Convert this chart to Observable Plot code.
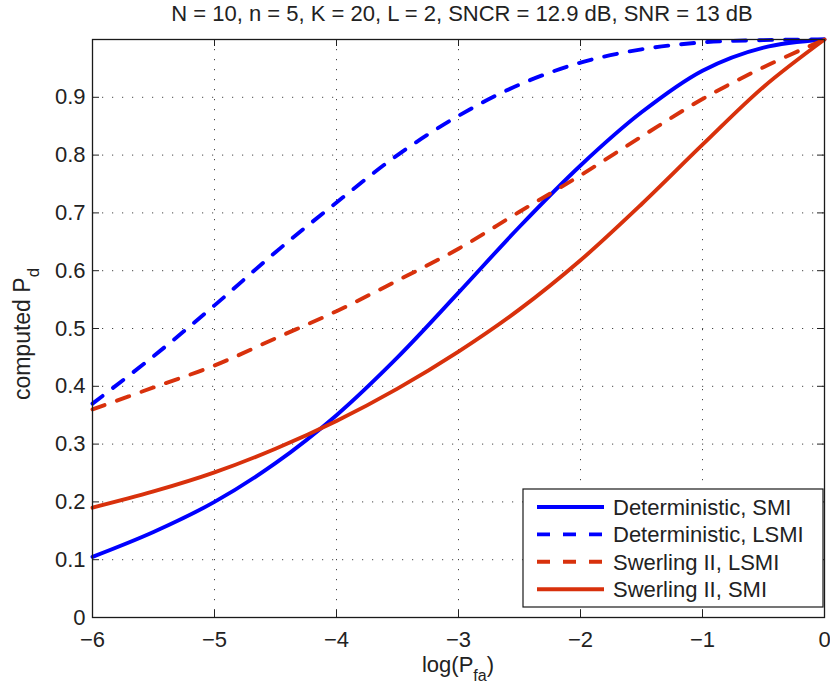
<!DOCTYPE html>
<html>
<head>
<meta charset="utf-8">
<script src="https://cdn.jsdelivr.net/npm/d3@7"></script>
<script src="https://cdn.jsdelivr.net/npm/@observablehq/plot@0.6"></script>
<style>
  body { margin: 0; background: #fff; }
  #chart svg { display: block; }
</style>
</head>
<body>
<div id="chart"></div>
<script>
// ---- data ----
const logPfa   = [-6, -5.5, -5, -4.5, -4, -3.5, -3, -2.5, -2, -1.5, -1, -0.5, 0];
const detSMI   = [0.105, 0.148, 0.200, 0.267, 0.350, 0.450, 0.562, 0.676, 0.782, 0.874, 0.946, 0.986, 1.0];
const detLSMI  = [0.370, 0.452, 0.540, 0.632, 0.718, 0.800, 0.868, 0.922, 0.960, 0.983, 0.995, 0.999, 1.0];
const swLSMI   = [0.360, 0.398, 0.436, 0.483, 0.530, 0.583, 0.638, 0.702, 0.765, 0.832, 0.897, 0.952, 1.0];
const swSMI    = [0.190, 0.218, 0.251, 0.292, 0.340, 0.396, 0.460, 0.533, 0.618, 0.715, 0.818, 0.918, 1.0];

const seriesNames = ["Deterministic, SMI", "Deterministic, LSMI", "Swerling II, LSMI", "Swerling II, SMI"];
const xTicks = [-6, -5, -4, -3, -2, -1, 0];
const yTicks = [0, 0.1, 0.2, 0.3, 0.4, 0.5, 0.6, 0.7, 0.8, 0.9];
const titleText = "N = 10, n = 5, K = 20, L = 2, SNCR = 12.9 dB, SNR = 13 dB";

// ---- styles ----
const BLUE = "#0000FF", RED = "#D8310C";
const DASH = "13,13";
const series = [
  {name: seriesNames[0], values: detSMI,  color: BLUE, dash: null},
  {name: seriesNames[1], values: detLSMI, color: BLUE, dash: DASH},
  {name: seriesNames[2], values: swLSMI,  color: RED,  dash: DASH},
  {name: seriesNames[3], values: swSMI,   color: RED,  dash: null}
];

const W = 830, H = 686, mL = 92, mR = 6, mT = 39, mB = 69;
const fw = W - mL - mR, fh = H - mT - mB;
const FONT = "'Liberation Sans', Arial, Helvetica, sans-serif";
const FS = 22;
const fmtX = d => d < 0 ? "\u2212" + (-d) : String(d);
const fmtY = d => d === 0 ? "0" : String(d);
const gridStyle = {stroke: "#333", strokeOpacity: 0.9, strokeWidth: 1, strokeDasharray: "1.2,8.8"};
const tickStyle = {stroke: "#222", strokeWidth: 1};

const lineMarks = series.map(s =>
  Plot.line(logPfa.map((x, i) => ({x, y: s.values[i]})), {
    x: "x", y: "y", stroke: s.color, strokeWidth: 3.9,
    strokeDasharray: s.dash || undefined, curve: "catmull-rom",
    strokeLinejoin: "round"
  })
);

const inner = xTicks.slice(1, -1);
const innerY = yTicks.slice(1);

const chart = Plot.plot({
  width: W, height: H,
  marginLeft: mL, marginRight: mR, marginTop: mT, marginBottom: mB,
  style: {fontFamily: FONT, fontSize: FS + "px", background: "#fff", color: "#222"},
  x: {domain: [-6, 0], axis: null},
  y: {domain: [0, 1], axis: null},
  marks: [
    Plot.gridX(inner, {...gridStyle}),
    Plot.gridY(innerY, {...gridStyle}),
    ...lineMarks,
    Plot.tickX(inner, {x: d => d, insetTop: fh - 7, ...tickStyle}),
    Plot.tickX(inner, {x: d => d, insetBottom: fh - 7, ...tickStyle}),
    Plot.tickY(innerY, {y: d => d, insetRight: fw - 7, ...tickStyle}),
    Plot.tickY(innerY, {y: d => d, insetLeft: fw - 7, ...tickStyle}),
    Plot.frame({stroke: "#1a1a1a", strokeWidth: 1.3}),
    Plot.axisX(xTicks, {tickSize: 0, tickPadding: 14, fontSize: FS, tickFormat: fmtX, fill: "#222", label: null}),
    Plot.axisY(yTicks, {tickSize: 0, tickPadding: 7, fontSize: FS, tickFormat: fmtY, fill: "#222", label: null})
  ]
});

document.getElementById("chart").appendChild(chart);

// ---- title, axis labels with subscripts, legend ----
const svg = d3.select(chart);
svg.append("text")
  .attr("x", 462).attr("y", 21)
  .attr("text-anchor", "middle")
  .attr("font-family", FONT).attr("font-size", FS).attr("fill", "#222")
  .text(titleText);

const xl = svg.append("text")
  .attr("x", mL + fw / 2).attr("y", 672)
  .attr("text-anchor", "middle")
  .attr("font-family", FONT).attr("font-size", FS).attr("fill", "#222");
xl.append("tspan").text("log(P");
xl.append("tspan").attr("dy", 9).attr("font-size", 16).text("fa");
xl.append("tspan").attr("dy", -9).text(")");

const yl = svg.append("text")
  .attr("transform", `translate(30,${mT + fh / 2 + 6}) rotate(-90)`)
  .attr("text-anchor", "middle")
  .attr("font-family", FONT).attr("font-size", 23).attr("fill", "#222");
yl.append("tspan").text("computed P");
yl.append("tspan").attr("dy", 9).attr("font-size", 17).text("d");

const lg = svg.append("g");
lg.append("rect")
  .attr("x", 523).attr("y", 489).attr("width", 300).attr("height", 118)
  .attr("fill", "#fff").attr("stroke", "#1a1a1a").attr("stroke-width", 1.2);
series.forEach((s, i) => {
  const cy = 507 + i * 27.4;
  lg.append("line")
    .attr("x1", 537).attr("x2", 604).attr("y1", cy).attr("y2", cy)
    .attr("stroke", s.color).attr("stroke-width", 3.9)
    .attr("stroke-dasharray", s.dash || null);
  lg.append("text")
    .attr("x", 613).attr("y", cy + 8)
    .attr("text-anchor", "start")
    .attr("font-family", FONT).attr("font-size", FS).attr("fill", "#222")
    .text(s.name);
});
</script>
</body>
</html>
